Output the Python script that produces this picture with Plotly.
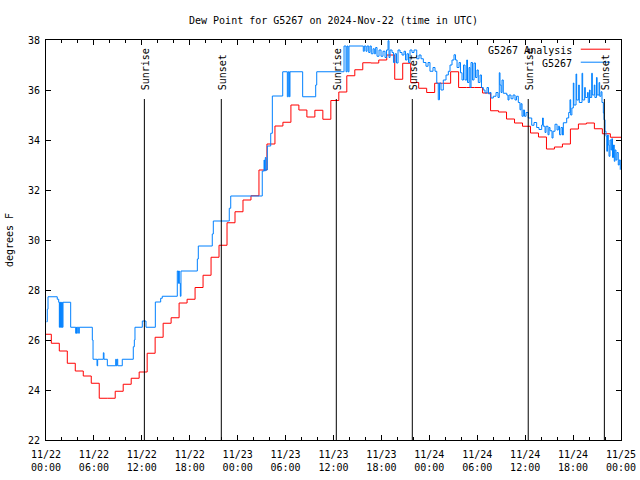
import plotly.graph_objects as go
import pandas as pd

# ---------------- data ----------------
START = "2024-11-22 00:00"
END = "2024-11-25 00:00"

# hourly analysis values (first valid from 00:00, then each from HH:40)
red_values = [
    26.23, 25.87, 25.56, 25.07, 24.76, 24.56, 24.27, 23.67, 23.67, 23.95,
    24.23, 24.47, 24.72, 25.47, 26.11, 26.67, 26.89, 27.48, 27.63, 28.10,
    28.59, 29.31, 29.79, 30.69, 31.13, 31.60, 31.77, 32.80, 33.84, 34.56,
    34.71, 35.40, 35.20, 34.92, 35.19, 34.83, 35.58, 35.92, 36.57, 36.81,
    37.09, 37.08, 37.20, 37.40, 36.43, 37.07, 36.30, 36.07, 35.90, 36.27,
    36.27, 36.73, 36.10, 36.10, 36.10, 35.88, 35.17, 35.12, 34.84, 34.68,
    34.55, 34.28, 34.12, 33.64, 33.72, 33.84, 34.44, 34.64, 34.68, 34.45,
    34.25, 34.11,
]
red_minute = 40

# observations: hours since 11/22 00:00 UTC, dew point (F)
blue_hours = [
    0.05, 0.16, 0.25, 1.41, 1.59, 1.67, 1.73, 1.79, 1.85, 1.92, 2.00, 2.04, 2.13,
    3.09, 3.72, 3.79, 3.84, 3.92, 4.09, 4.17, 5.80, 5.89, 6.39, 6.47, 7.18, 7.26,
    7.68, 8.73, 8.80, 8.89, 8.98, 9.55, 10.93, 11.06, 11.14, 12.06, 12.52, 13.69,
    14.36, 14.56, 16.44, 16.57, 16.63, 16.69, 16.82, 16.90, 18.95, 19.07, 20.82,
    20.95, 22.95, 23.13, 27.08, 27.30, 27.36, 27.46, 27.55, 27.71, 28.14, 28.34,
    29.64, 30.22, 30.34, 30.47, 30.55, 32.14, 33.77, 33.90, 37.32, 37.57, 37.69,
    37.82, 37.94, 39.73, 39.86, 40.07, 40.20, 40.41, 40.57, 40.73, 40.95, 41.11,
    41.28, 41.45, 41.70, 41.95, 42.20, 42.45, 42.64, 42.83, 42.95, 43.08, 43.33,
    43.51, 43.70, 43.89, 44.08, 44.33, 44.58, 44.83, 45.02, 45.20, 45.39, 45.58,
    45.83, 46.08, 46.42, 46.71, 46.96, 47.25, 47.58, 47.84, 48.08, 48.46, 48.71,
    48.93, 49.12, 49.27, 49.46, 49.75, 50.09, 50.38, 50.59, 50.84, 51.09, 51.28,
    51.47, 51.72, 51.90, 52.09, 52.28, 52.47, 52.68, 52.78, 52.97, 53.09, 53.22,
    53.40, 53.59, 53.78, 53.97, 54.13, 54.35, 54.53, 54.76, 54.97, 55.22, 55.41,
    55.60, 55.72, 56.01, 56.35, 56.60, 56.76, 56.85, 56.98, 57.10, 57.26, 57.69,
    57.85, 57.98, 58.23, 58.48, 58.73, 58.92, 59.14, 59.35, 59.48, 59.61, 59.77,
    59.92, 60.11, 60.39, 60.82, 61.11, 61.44, 61.73, 62.07, 62.17, 62.27, 62.49,
    62.61, 62.86, 62.99, 63.11, 63.36, 63.49, 63.74, 63.99, 64.15, 64.30, 64.49,
    64.68, 64.78, 65.20, 65.45, 65.61, 65.70, 65.85, 66.03, 66.10, 66.37, 66.45,
    66.70, 66.78, 67.12, 67.20, 67.45, 67.53, 67.80, 67.90, 68.05, 68.13, 68.33,
    68.41, 68.65, 68.73, 68.93, 69.01, 69.25, 69.33, 69.50, 69.62,
    69.79, 69.87, 70.00, 70.12, 70.22, 70.31, 70.41, 70.50,
    70.62, 70.75, 70.84, 70.94, 71.06, 71.16, 71.25, 71.37, 71.50, 71.66, 71.78,
    71.91,
]
blue_values = [
    26.73, 27.23, 27.73, 27.63, 27.51, 26.51, 27.51, 26.51, 27.51, 26.51, 27.51, 26.51, 27.51,
    26.51, 26.27, 26.51, 26.27, 26.51, 26.27, 26.51, 26.00, 25.23, 24.97, 25.23, 25.49, 25.23,
    24.97, 25.23, 24.97, 25.23, 24.97, 25.23, 25.73, 26.00, 26.51, 26.76, 26.51, 27.52,
    27.67, 27.75, 28.76, 28.27, 28.76, 28.27, 27.75, 28.76, 29.24, 29.76, 30.24,
    30.76, 31.27, 31.76, 32.76, 33.20, 32.76, 33.30, 32.80, 33.76, 34.27, 35.76,
    36.73, 35.73, 36.73, 35.73, 36.73, 35.73, 36.20, 36.73, 37.76, 36.73, 37.76,
    36.73, 37.76, 37.55, 37.76, 37.55, 37.76, 37.50, 37.76, 37.45, 37.65, 37.45,
    37.70, 37.35, 37.60, 37.35, 37.55, 37.30, 37.60, 37.97, 37.30, 37.60, 37.50,
    37.10, 37.45, 37.08, 37.60, 37.50, 37.40, 37.55, 37.20, 37.45, 37.10, 37.60,
    37.50, 37.60, 37.25, 37.40, 37.25, 37.10, 36.95, 37.10, 36.75, 36.90, 36.75,
    36.28, 35.61, 36.28, 36.00, 36.40, 36.60, 36.75, 37.00, 37.20, 37.41, 37.20,
    36.90, 37.10, 36.69, 36.40, 37.00, 36.40, 37.20, 36.30, 36.90, 36.10, 37.10,
    36.40, 37.08, 36.50, 36.80, 36.30, 36.60, 36.10, 36.00, 35.88, 36.10, 35.85,
    35.90, 35.68, 35.75, 35.90, 35.70, 36.69, 36.20, 35.90, 36.40, 35.87, 35.80,
    35.60, 35.80, 35.65, 35.80, 35.60, 35.75, 35.50, 35.21, 35.45, 34.95, 35.20,
    34.95, 35.10, 34.88, 34.59, 34.70, 34.50, 34.42, 34.60, 34.88, 34.55, 34.30,
    34.55, 34.21, 34.50, 34.37, 34.08, 34.35, 34.63, 34.40, 34.55, 34.21, 34.50,
    34.20, 34.69, 34.88, 35.10, 35.61, 35.00, 35.28, 36.28, 35.40, 36.64, 35.60,
    36.20, 35.50, 36.67, 35.60, 36.10, 35.70, 35.90, 35.50, 36.00, 35.70, 36.67,
    35.80, 36.20, 35.70, 36.50, 35.80, 36.30, 35.75, 35.93, 35.50,
    35.08, 34.81, 34.35, 34.15, 33.55, 34.20, 33.80, 33.35,
    34.00, 33.60, 34.05, 33.30, 33.80, 33.15, 33.60, 33.20, 33.50, 33.00, 33.20,
    32.81,
]

event_labels = ["Sunrise", "Sunset", "Sunrise", "Sunset", "Sunrise", "Sunset"]
event_times = ["2024-11-22 12:19", "2024-11-22 21:57", "2024-11-23 12:21",
               "2024-11-23 21:52", "2024-11-24 12:23", "2024-11-24 21:55"]

legend_names = ["G5267 Analysis", "G5267"]
colors = ["#ff0000", "#0080ff"]

title = "Dew Point for G5267 on 2024-Nov-22 (time in UTC)"
y_title = "degrees F"

# ---------------- build ----------------
start = pd.Timestamp(START)
end = pd.Timestamp(END)
red_x = [start] + [start + pd.Timedelta(hours=k, minutes=red_minute)
                   for k in range(len(red_values) - 1)] + [end]
red_y = red_values + [red_values[-1]]
blue_x = [start + pd.Timedelta(hours=h) for h in blue_hours]

FONT = "DejaVu Sans Mono"

fig = go.Figure()
fig.add_trace(go.Scatter(x=red_x, y=red_y, mode="lines", line_shape="hv",
                         line=dict(color=colors[0], width=1), name=legend_names[0],
                         showlegend=False))
fig.add_trace(go.Scatter(x=blue_x, y=blue_values, mode="lines", line_shape="hv",
                         line=dict(color=colors[1], width=1), name=legend_names[1],
                         showlegend=False))

shapes = []
annotations = []
for lab, t in zip(event_labels, event_times):
    shapes.append(dict(type="line", xref="x", yref="paper", x0=t, x1=t, y0=0, y1=0.8525,
                       line=dict(color="black", width=1)))
    annotations.append(dict(x=t, y=0.87, xref="x", yref="paper", text=lab,
                            textangle=-90, showarrow=False, xanchor="center",
                            yanchor="bottom", xshift=1,
                            font=dict(family=FONT, size=10, color="black")))

# legend (gnuplot style: text then sample line)
for i, (nm, c) in enumerate(zip(legend_names, colors)):
    yp = 0.975 - i * 0.0325
    annotations.append(dict(x=0.919, y=yp, xref="paper", yref="paper", text=nm,
                            showarrow=False, xanchor="right", yanchor="middle",
                            font=dict(family=FONT, size=10, color="black")))
    shapes.append(dict(type="line", xref="paper", yref="paper", x0=0.930, x1=0.981,
                       y0=yp + 0.002, y1=yp + 0.002, line=dict(color=c, width=1)))

fig.update_layout(
    width=640, height=480,
    margin=dict(l=46, r=19, t=40, b=40),
    paper_bgcolor="white", plot_bgcolor="white",
    font=dict(family=FONT, size=10, color="black"),
    title=dict(text=title, x=(46 + 621) / 2 / 640, xanchor="center", y=1 - 20 / 480,
               yanchor="middle", font=dict(family=FONT, size=10, color="black")),
    shapes=shapes, annotations=annotations,
    showlegend=False,
)
fig.update_xaxes(
    type="date", range=[START, END], tick0=START, dtick=6 * 3600 * 1000,
    tickformat="%m/%d<br>%H:%M", ticks="inside", ticklen=5, tickcolor="black",
    showline=True, linecolor="black", linewidth=1, mirror="ticks", showgrid=False,
    zeroline=False, automargin=False, ticklabelstandoff=5,
    minor=dict(dtick=2 * 3600 * 1000, ticks="inside", ticklen=3, tickcolor="black",
               showgrid=False),
    tickfont=dict(family=FONT, size=10, color="black"),
)
fig.update_yaxes(
    range=[22, 38], dtick=2, tick0=22, ticks="inside", ticklen=5, tickcolor="black",
    showline=True, linecolor="black", linewidth=1, mirror="ticks", showgrid=False,
    zeroline=False, automargin=False, ticklabelstandoff=3,
    title=dict(text=y_title, standoff=12, font=dict(family=FONT, size=10, color="black")),
    tickfont=dict(family=FONT, size=10, color="black"),
)

fig.write_html("out.html")
